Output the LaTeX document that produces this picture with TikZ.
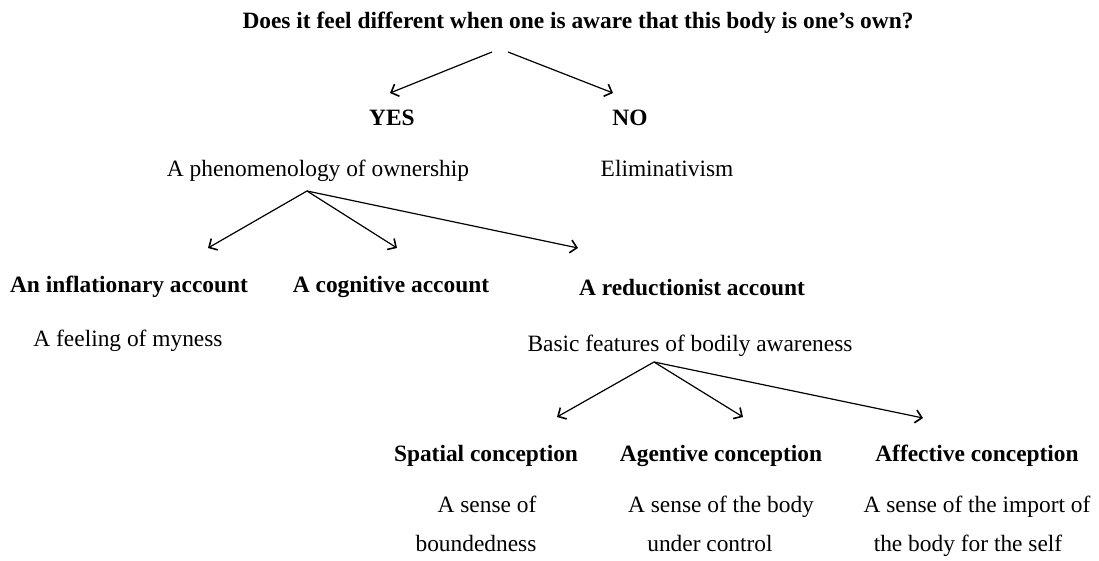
\documentclass[tikz,border=0pt]{standalone}
\usepackage{fontspec}
\setmainfont{Liberation Serif}
\usepackage{tikz}
\usetikzlibrary{arrows.meta}

\begin{document}
\begin{tikzpicture}[x=0.5pt, y=-0.5pt,
	every node/.style={inner sep=0pt, font=\fontsize{11.7}{19.5}\selectfont},
	head/.style={anchor=base, font=\fontsize{11.7}{19.5}\selectfont\bfseries},
	txt/.style={anchor=base},
	>={Straight Barb[length=3.2pt, width=6.5pt, line width=0.8pt]},
	line width=0.6pt]
	\useasboundingbox (0,0) rectangle (1099,561);
	\node[head](q) at (578,29){Does it feel different when one is aware that this body is one’s own?};
	\node[head](yes) at (392,126){YES};
	\node[head](no) at (630,126){NO};
	\node[txt](phen) at (318,177){A phenomenology of ownership};
	\node[txt](elim) at (667,177){Eliminativism};
	\node[head](infl) at (129,293){An inflationary account};
	\node[head](cogn) at (391,293){A cognitive account};
	\node[head](redu) at (692,296){A reductionist account};
	\node[txt](myness) at (128,347){A feeling of myness};
	\node[txt](basic) at (690,352){Basic features of bodily awareness};
	\node[head](spat) at (486,462){Spatial conception};
	\node[head](agen) at (721,462){Agentive conception};
	\node[head](affe) at (977,462){Affective conception};
	\node[txt, align=center](bound) at (487,552){A sense of\\\mbox{boundedness\hspace{11pt}}};
	\node[txt, align=center](contr) at (721,552){A sense of the body\\\mbox{under control\hspace{11pt}}};
	\node[txt, align=center](impor) at (977,552){A sense of the import of\\\mbox{the body for the self\hspace{9pt}}};
	\draw[->] ([shift={(-86,23)}]q.base) -- ([shift={(-2,-33)}]yes.base);
	\draw[->] ([shift={(-70,23)}]q.base) -- ([shift={(-17,-33)}]no.base);
	\draw[->] ([shift={(-11,14)}]phen.base) -- ([shift={(79,-45)}]infl.base);
	\draw[->] ([shift={(-11,14)}]phen.base) -- ([shift={(6,-45)}]cogn.base);
	\draw[->] ([shift={(-11,14)}]phen.base) -- ([shift={(-114,-48)}]redu.base);
	\draw[->] ([shift={(-36,10)}]basic.base) -- ([shift={(71,-45)}]spat.base);
	\draw[->] ([shift={(-36,10)}]basic.base) -- ([shift={(22,-45)}]agen.base);
	\draw[->] ([shift={(-36,10)}]basic.base) -- ([shift={(-54,-44)}]affe.base);
\end{tikzpicture}
\end{document}
